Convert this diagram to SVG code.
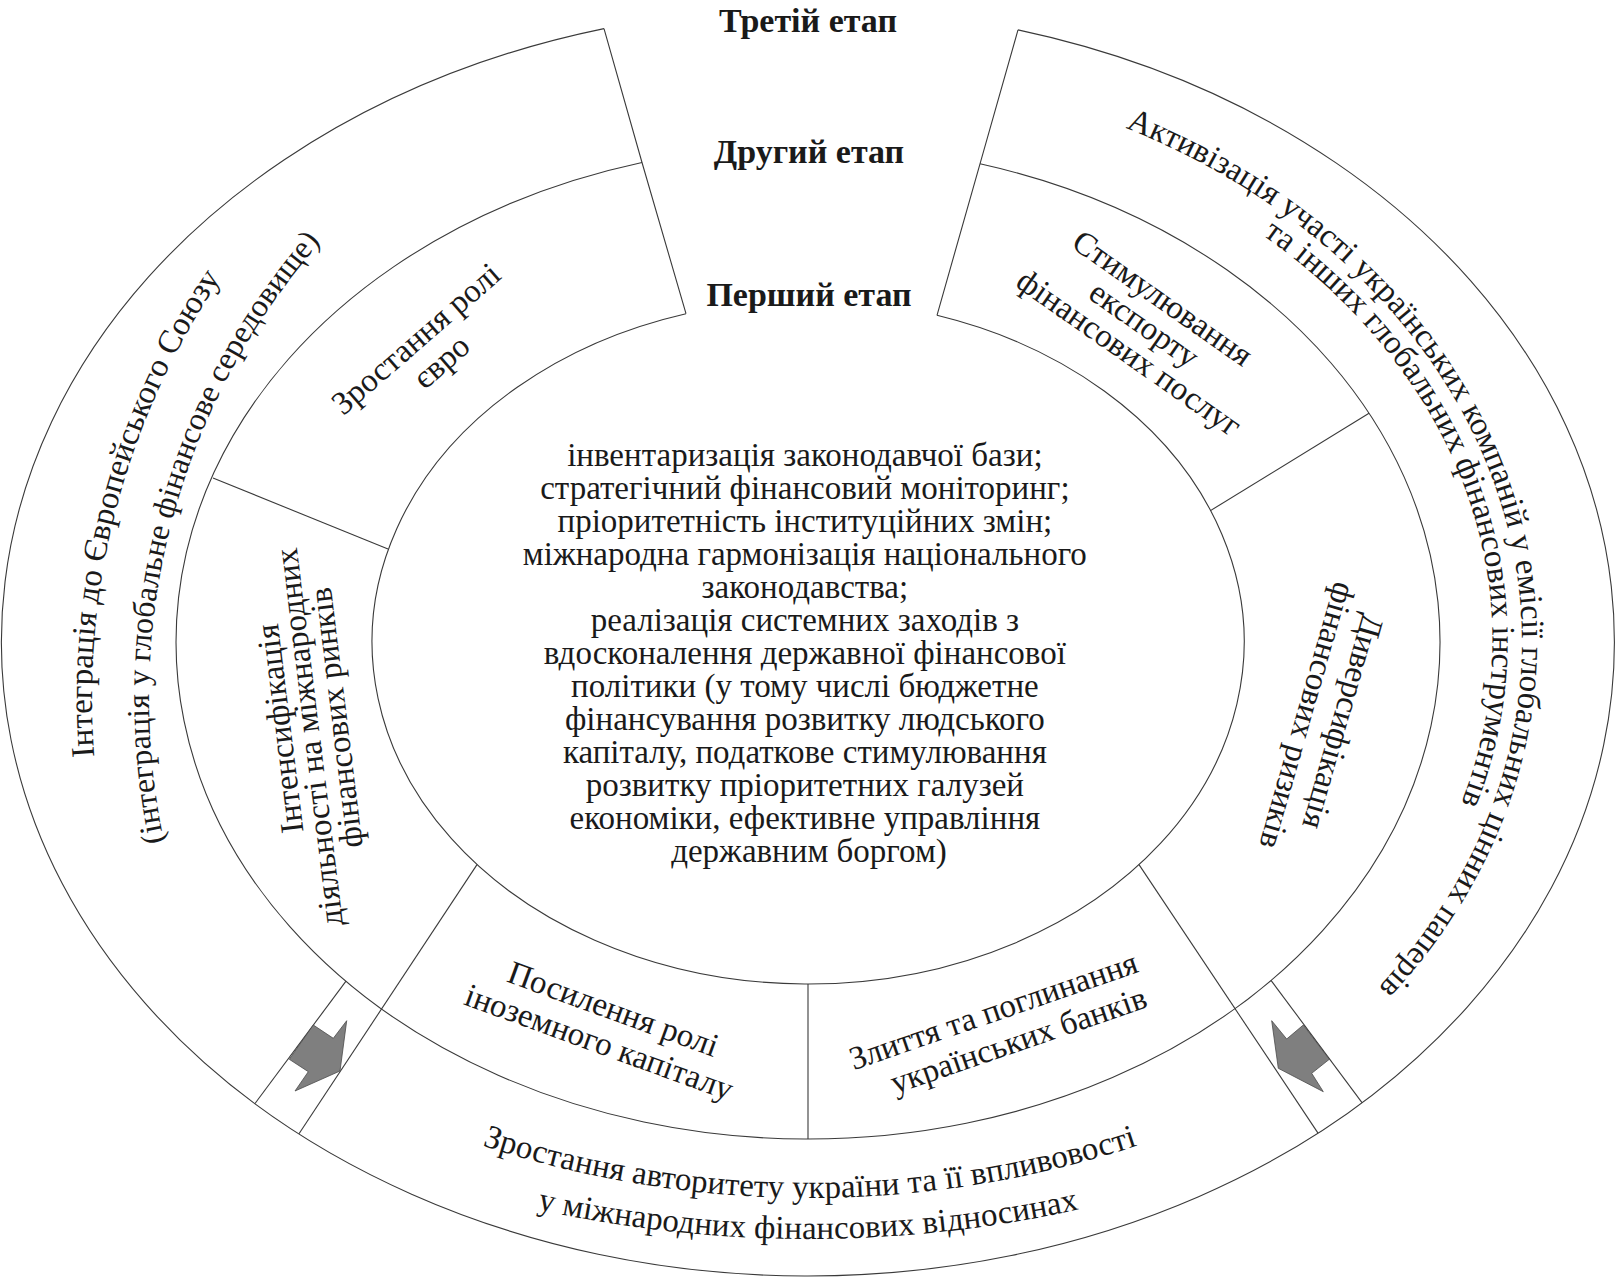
<svg xmlns="http://www.w3.org/2000/svg" width="1618" height="1278" viewBox="0 0 1618 1278">
<style>
.ln{fill:none;stroke:#3a3a3a;stroke-width:1.1}
.t{font-family:"Liberation Serif","Times New Roman",serif;font-size:33px;fill:#1a1a1a}
.b{font-weight:bold;font-size:34px}
.s{font-size:32px}
.ar{fill:#7f7f7f;stroke:#4a4a4a;stroke-width:0.8}
</style>
<defs>
<path id="pL1" d="M 94.3 756.8 A 749 749 0 0 1 647.1 -25.5"/>
<path id="pL2" d="M 164.1 841.9 A 692 692 0 0 1 661.9 29.6"/>
<path id="pR1" d="M 1125.4 127.9 A 714 574 0 0 1 1165 1139.1"/>
<path id="pR2" d="M 1262.8 235.2 A 683 542 0 0 1 1291 1025"/>
<path id="pB1" d="M 366.3 1099.6 A 1050 1050 0 0 0 1253.7 1099.6"/>
<path id="pB2" d="M 380.5 1163.6 A 1250 1250 0 0 0 1235.5 1163.6"/>
</defs>
<rect width="1618" height="1278" fill="#ffffff"/>

<g id="rings">
<path class="ln" d="M 604 28.6 A 806.5 634 0 1 0 1018 29.9"/>
<path class="ln" d="M 642 162.5 A 632 497 0 1 0 980 163.8"/>
<path class="ln" d="M 686 313.7 A 436 342 0 1 0 937 315.3"/>
<polyline class="ln" points="604,28.6 642,162.5 686,313.7"/>
<polyline class="ln" points="1018,29.9 980,163.8 937,315.3"/>
</g>

<g id="connectors">
<line class="ln" x1="213" y1="478" x2="388" y2="549"/>
<line class="ln" x1="1369" y1="413.2" x2="1210.5" y2="510.6"/>
<line class="ln" x1="477" y1="864.6" x2="299" y2="1133.8"/>
<line class="ln" x1="346" y1="981.1" x2="255" y2="1103.5"/>
<line class="ln" x1="1139" y1="864.6" x2="1318" y2="1133.1"/>
<line class="ln" x1="1271" y1="980.3" x2="1362" y2="1102.7"/>
<line class="ln" x1="808" y1="984" x2="808" y2="1139"/>
<polygon class="ar" points="313.3,1025 333.3,1038.3 346.7,1020.7 340,1071 295,1091 308.3,1071.7 289.3,1059.3"/>
<polygon class="ar" points="1271.7,1020.7 1286.7,1039 1303.3,1025 1329.3,1059.3 1311.7,1073.3 1323.3,1091.7 1278.3,1068.3"/>
</g>

<g id="titles">
<text class="t b" x="808" y="32" text-anchor="middle">Третій етап</text>
<text class="t b" x="809" y="163" text-anchor="middle">Другий етап</text>
<text class="t b" x="809" y="306" text-anchor="middle">Перший етап</text>
</g>

<g id="stage1">
<text class="t" text-anchor="middle">
<tspan x="809" y="466">інвентаризація законодавчої бази;</tspan>
<tspan x="809" y="499">стратегічний фінансовий моніторинг;</tspan>
<tspan x="809" y="532">пріоритетність інституційних змін;</tspan>
<tspan x="809" y="565">міжнародна гармонізація національного</tspan>
<tspan x="809" y="598">законодавства;</tspan>
<tspan x="809" y="631">реалізація системних заходів з</tspan>
<tspan x="809" y="664">вдосконалення державної фінансової</tspan>
<tspan x="809" y="697">політики (у тому числі бюджетне</tspan>
<tspan x="809" y="730">фінансування розвитку людського</tspan>
<tspan x="809" y="763">капіталу, податкове стимулювання</tspan>
<tspan x="809" y="796">розвитку пріоритетних галузей</tspan>
<tspan x="809" y="829">економіки, ефективне управління</tspan>
<tspan x="809" y="862">державним боргом)</tspan>
</text>
</g>

<g id="euro">
<text class="t" text-anchor="middle" transform="translate(432,351) rotate(-41)">
<tspan x="0" y="-9">Зростання ролі</tspan>
<tspan x="0" y="25">євро</tspan>
</text>
</g>

<g id="export">
<text class="t" text-anchor="middle" transform="translate(1146,329) rotate(35)">
<tspan x="0" y="-24">Стимулювання</tspan>
<tspan x="0" y="8">експорту</tspan>
<tspan x="0" y="40">фінансових послуг</tspan>
</text>
</g>

<g id="intensification">
<text class="t" text-anchor="middle" transform="translate(309,721) rotate(-97)">
<tspan x="0" y="-19">Інтенсифікація</tspan>
<tspan x="-12" y="9">діяльності на міжнародних</tspan>
<tspan x="0" y="38">фінансових ринків</tspan>
</text>
</g>

<g id="diversification">
<text class="t" text-anchor="middle" transform="translate(1322,720) rotate(106)">
<tspan x="0" y="-10">Диверсифікація</tspan>
<tspan x="0" y="26">фінансових ризиків</tspan>
</text>
</g>

<g id="foreign-capital">
<text class="t" text-anchor="middle" transform="translate(610,1030) rotate(20)">
<tspan x="0" y="-10">Посилення ролі</tspan>
<tspan x="-6" y="26">іноземного капіталу</tspan>
</text>
</g>

<g id="mergers">
<text class="t" text-anchor="middle" transform="translate(1004,1029) rotate(-19)">
<tspan x="0" y="-10">Злиття та поглинання</tspan>
<tspan x="10" y="26">українських банків</tspan>
</text>
</g>

<g id="eu-integration">
<text class="t"><textPath href="#pL1">Інтеграція до Європейського Союзу</textPath></text>
<text class="t s"><textPath href="#pL2">(інтеграція у глобальне фінансове середовище)</textPath></text>
</g>

<g id="securities">
<text class="t"><textPath href="#pR1">Активізація участі українських компаній у емісії глобальних цінних паперів</textPath></text>
<text class="t"><textPath href="#pR2">та інших глобальних фінансових інструментів</textPath></text>
</g>

<g id="authority">
<text class="t" text-anchor="middle"><textPath href="#pB1" startOffset="50%">Зростання авторитету україни та її впливовості</textPath></text>
<text class="t" text-anchor="middle"><textPath href="#pB2" startOffset="50%">у міжнародних фінансових відносинах</textPath></text>
</g>
</svg>
